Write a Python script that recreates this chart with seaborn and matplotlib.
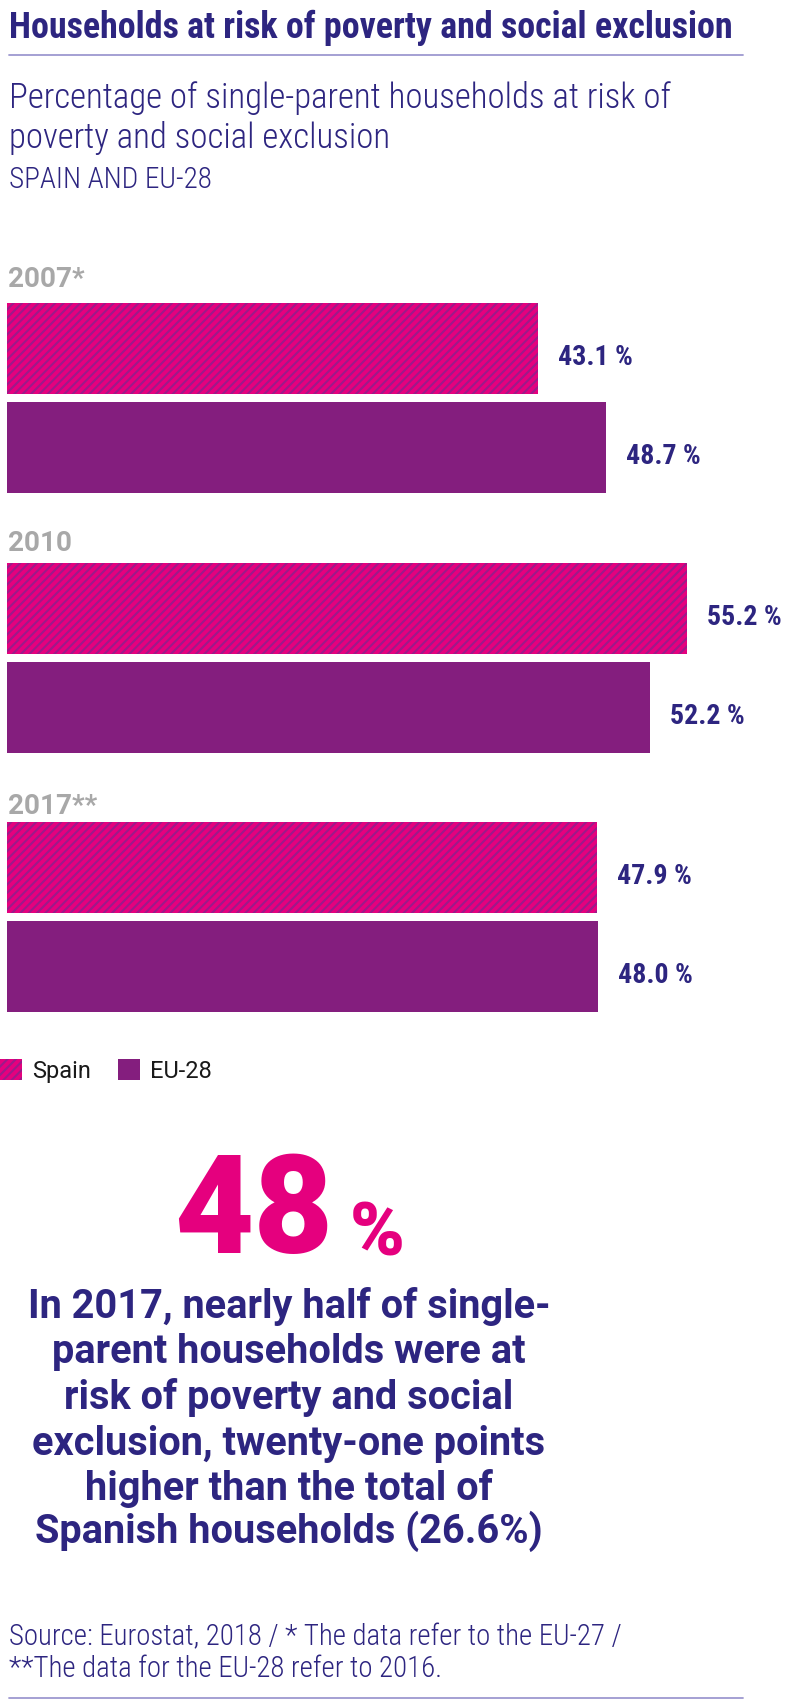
import matplotlib
matplotlib.use("Agg")
import matplotlib.pyplot as plt
import seaborn as sns
import pandas as pd
from matplotlib.patches import Patch
from matplotlib.lines import Line2D

# ---------------- data ----------------
years = ["2007*", "2010", "2017**"]
series = ["Spain", "EU-28"]
spain_values = [43.1, 55.2, 47.9]
eu_values = [48.7, 52.2, 48.0]

title = "Households at risk of poverty and social exclusion"
subtitle_lines = ["Percentage of single-parent households at risk of",
                  "poverty and social exclusion"]
region_label = "SPAIN AND EU-28"
big_number = "48"
big_unit = "%"
body_lines = ["In 2017, nearly half of single-",
              "parent households were at",
              "risk of poverty and social",
              "exclusion, twenty-one points",
              "higher than the total of",
              "Spanish households (26.6%)"]
source_lines = ["Source: Eurostat, 2018 / * The data refer to the EU-27 /",
                "**The data for the EU-28 refer to 2016."]

# ---------------- style ----------------
NAVY = "#2d2580"
PINK = "#e5007e"
STRIPE = "#9c1a8a"
PURPLE = "#841e7e"
GREY = "#a8a8a8"
RULE = "#9d99d0"

sns.set_theme(style="white")
plt.rcParams["font.family"] = ["Roboto", "DejaVu Sans"]
plt.rcParams["hatch.linewidth"] = 1.5
COND = ["Roboto Condensed", "Liberation Sans Narrow", "Roboto", "DejaVu Sans"]

W, H = 800, 1701
fig = plt.figure(figsize=(W / 100, H / 100), dpi=100)
fig.patch.set_facecolor("white")
renderer = fig.canvas.get_renderer()


def fx(x):
    return x / W


def fy(y):
    return 1 - y / H


def fit(t, target):
    for _ in range(4):
        w = t.get_window_extent(renderer).width
        if w > 0:
            t.set_fontsize(t.get_fontsize() * target / w)
    return t.get_fontsize()


def hline(y, x0, x1):
    fig.add_artist(Line2D([fx(x0), fx(x1)], [fy(y), fy(y)],
                          transform=fig.transFigure, color=RULE, lw=1.3))


# ---------------- header ----------------
t = fig.text(fx(9), fy(38), title, ha="left", va="baseline", color=NAVY,
             fontsize=22, fontweight="bold", family=COND)
fit(t, 726)
hline(55, 9, 743)

s1 = fig.text(fx(9), fy(108), subtitle_lines[0], ha="left", va="baseline",
              color=NAVY, fontsize=20, fontweight="light", family=COND)
fs = fit(s1, 663)
fig.text(fx(9), fy(148), subtitle_lines[1], ha="left", va="baseline",
         color=NAVY, fontsize=fs, fontweight="light", family=COND)
r = fig.text(fx(9), fy(188), region_label, ha="left", va="baseline",
             color=NAVY, fontsize=15, fontweight="light", family=COND)
fit(r, 203)

# ---------------- bars ----------------
px_per_unit = 12.31
bar_left = 7
bar_tops = [303, 563, 822]
year_baselines = [287, 551, 814]
pitch = 99
bw = 0.92
ax_w = W - bar_left

year_texts = []
value_texts = []
for i, yr in enumerate(years):
    top = bar_tops[i] - (0.5 - bw / 2) * pitch
    hgt = 2 * pitch
    ax = fig.add_axes([fx(bar_left), fy(top + hgt), ax_w / W, hgt / H])
    df = pd.DataFrame({"series": series, "value": [spain_values[i], eu_values[i]]})
    sns.barplot(data=df, x="value", y="series", hue="series",
                palette=[PINK, PURPLE], hue_order=series, order=series,
                width=bw, saturation=1, legend=False, ax=ax)
    ax.set_xlim(0, ax_w / px_per_unit)
    ax.set_ylim(1.5, -0.5)
    ax.set_axis_off()
    for p in ax.patches:
        yc = p.get_y() + p.get_height() / 2
        p.set_linewidth(0)
        if abs(yc) < 0.5:
            p.set_facecolor(PINK)
            p.set_edgecolor(STRIPE)
            p.set_hatch("////")
        else:
            p.set_facecolor(PURPLE)
            p.set_edgecolor(PURPLE)
    for j, v in enumerate([spain_values[i], eu_values[i]]):
        vt = ax.annotate(f"{v:.1f} %", xy=(v, j), xytext=(14.4, -11.5),
                         textcoords="offset points", ha="left", va="baseline",
                         color=NAVY, fontsize=20, fontweight="bold", family=COND)
        value_texts.append(vt)
    yt = fig.text(fx(8), fy(year_baselines[i]), yr, ha="left", va="baseline",
                  color=GREY, fontsize=19, fontweight="bold")
    year_texts.append(yt)

vfs = fit(value_texts[0], 75)
for vt in value_texts:
    vt.set_fontsize(vfs)
yfs = fit(year_texts[1], 64)
for yt in year_texts:
    yt.set_fontsize(yfs)

# ---------------- legend ----------------
handles = [Patch(facecolor=PINK, edgecolor=STRIPE, hatch="////", lw=0),
           Patch(facecolor=PURPLE, edgecolor=PURPLE, lw=0)]
leg = fig.legend(handles, series, loc="center left",
                 bbox_to_anchor=(fx(0), fy(1071)), ncol=2, frameon=False,
                 fontsize=17, handlelength=0.95, handleheight=0.95,
                 handletextpad=0.4, columnspacing=1.15, borderpad=0,
                 borderaxespad=0, prop={"family": ["Roboto", "DejaVu Sans"],
                                        "size": 17})
for txt in leg.get_texts():
    txt.set_color("#1a1a1a")

# ---------------- highlight ----------------
b = fig.text(fx(174), fy(1253), big_number, ha="left", va="baseline",
             color=PINK, fontsize=90, fontweight="black")
fit(b, 159)
u = fig.text(fx(350), fy(1255), big_unit, ha="left", va="baseline",
             color=PINK, fontsize=40, fontweight="black")
fit(u, 55)

body_baselines = [1318, 1363, 1409, 1455, 1500, 1543]
body_texts = []
for line, bl in zip(body_lines, body_baselines):
    bt = fig.text(fx(289), fy(bl), line, ha="center", va="baseline",
                  color=NAVY, fontsize=25, fontweight="bold")
    body_texts.append(bt)
bfs = fit(body_texts[3], 513)
for bt in body_texts:
    bt.set_fontsize(bfs)

# ---------------- source ----------------
src_texts = []
for line, bl in zip(source_lines, [1645, 1677]):
    st = fig.text(fx(9), fy(bl), line, ha="left", va="baseline",
                  color=NAVY, fontsize=16, fontweight="light", family=COND)
    src_texts.append(st)
sfs = fit(src_texts[0], 612)
for st in src_texts:
    st.set_fontsize(sfs)
hline(1698, 9, 743)

fig.savefig("out.png", dpi=100, facecolor="white")
